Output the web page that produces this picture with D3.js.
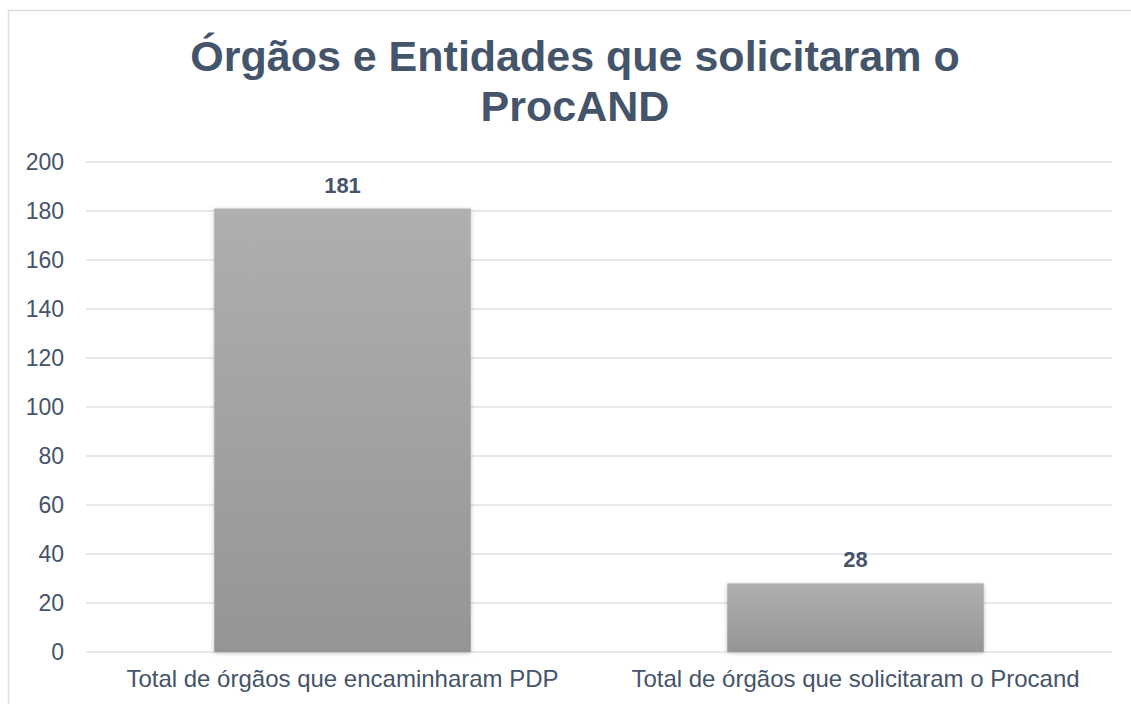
<!DOCTYPE html>
<html><head><meta charset="utf-8">
<script src="https://cdn.jsdelivr.net/npm/d3@7"></script>
<style>body{margin:0;background:#fff;} text{font-family:"Liberation Sans",Arial,sans-serif;}</style>
</head><body>
<svg id="c" width="1131" height="704"></svg>
<script>
const categories = ["Total de órgãos que encaminharam PDP", "Total de órgãos que solicitaram o Procand"];
const values = [181, 28];
const yTicks = [0, 20, 40, 60, 80, 100, 120, 140, 160, 180, 200];
const titleLines = ["Órgãos e Entidades que solicitaram o", "ProcAND"];

const svg = d3.select("#c");
const m = {left: 86, right: 1112, top: 162, bottom: 652};
const textColor = "#44546A";
const FONT = "Liberation Sans, Arial, sans-serif";

svg.append("rect").attr("x", 8.5).attr("y", 10.5).attr("width", 1140).attr("height", 720)
  .attr("fill", "#fff").attr("stroke", "#D9DDE3").attr("stroke-width", 1.5);

const defs = svg.append("defs");
const g = defs.append("linearGradient").attr("id", "bg").attr("x1", 0).attr("y1", 0).attr("x2", 0).attr("y2", 1);
g.append("stop").attr("offset", "0%").attr("stop-color", "#AFAFAF");
g.append("stop").attr("offset", "100%").attr("stop-color", "#959595");
const f = defs.append("filter").attr("id", "sh").attr("x", "-10%").attr("y", "-10%").attr("width", "120%").attr("height", "120%");
f.append("feDropShadow").attr("dx", 0).attr("dy", 1).attr("stdDeviation", 2).attr("flood-color", "#000").attr("flood-opacity", 0.25);

const x = d3.scaleBand().domain(categories).range([m.left, m.right]).paddingInner(0.5).paddingOuter(0.25);
const y = d3.scaleLinear().domain([0, 200]).range([m.bottom, m.top]);

// grid
svg.append("g").selectAll("line").data(yTicks).join("line")
  .attr("x1", m.left).attr("x2", m.right)
  .attr("y1", d => y(d)).attr("y2", d => y(d))
  .attr("stroke", "#DDE1E7").attr("stroke-width", 1.5);

// y axis labels
const yAxis = d3.axisLeft(y).tickValues(yTicks).tickSize(0).tickPadding(0);
const ya = svg.append("g").attr("transform", `translate(64,0)`).call(yAxis);
ya.select(".domain").remove();
ya.selectAll("text").attr("fill", textColor).attr("font-size", 23).attr("font-family", FONT);

// bars
svg.append("g").selectAll("rect").data(values).join("rect")
  .attr("x", (d, i) => x(categories[i]))
  .attr("width", x.bandwidth())
  .attr("y", d => y(d))
  .attr("height", d => y(0) - y(d))
  .attr("fill", "url(#bg)")
  .attr("filter", "url(#sh)");

// value labels
svg.append("g").selectAll("text").data(values).join("text")
  .attr("x", (d, i) => x(categories[i]) + x.bandwidth() / 2)
  .attr("y", d => y(d) - 16)
  .attr("text-anchor", "middle")
  .attr("font-size", 22).attr("font-weight", "bold").attr("fill", textColor)
  .text(d => d);

// x axis labels
const xAxis = d3.axisBottom(x).tickSize(0).tickPadding(0);
const xa = svg.append("g").attr("transform", `translate(0,${m.bottom + 18})`).call(xAxis);
xa.select(".domain").remove();
xa.selectAll("text").attr("fill", textColor).attr("font-size", 24).attr("font-family", FONT);

// title
svg.append("g").selectAll("text").data(titleLines).join("text")
  .attr("x", 575).attr("y", (d, i) => 71 + i * 50)
  .attr("text-anchor", "middle")
  .attr("font-size", 43).attr("font-weight", "bold").attr("fill", textColor)
  .text(d => d);
</script>
</body></html>
